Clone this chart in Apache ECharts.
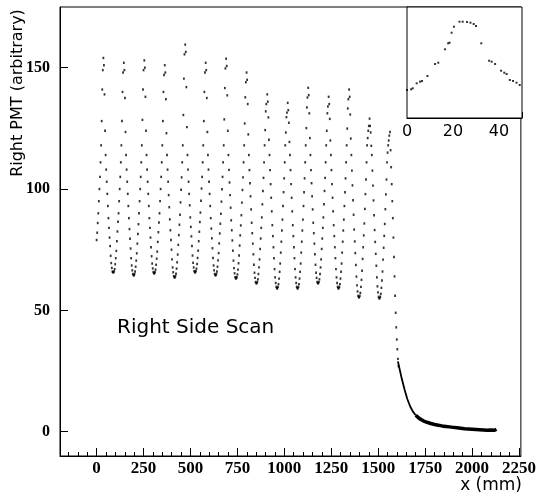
<!DOCTYPE html>
<html>
<head>
<meta charset="utf-8">
<script src="https://cdn.jsdelivr.net/npm/echarts@6/dist/echarts.min.js"></script>
<style>
html,body{margin:0;padding:0;background:#fff;}
#c{width:539px;height:496px;}
</style>
</head>
<body>
<div id="c"></div>
<script>
// ---- data ----
const xMajorTicks = [0, 250, 500, 750, 1000, 1250, 1500, 1750, 2000, 2250];
const yMajorTicks = [0, 50, 100, 150];
const insetTicks = [0, 20, 40];

const scanStep = 3; // mm between samples
const leadValues = [79, 82, 86, 90, 95, 100, 105, 111, 118, 128, 141, 149];
const tileStart = [36, 145, 254, 363, 472, 581, 690, 799, 909, 1018, 1127, 1236, 1345, 1454];
const tileValues = [
  [154,151,139,124,114,108,103,98,93,88,84,80,76.5,72.5,69.5,67.5,66,65.7, 65.7,66,67,69,71.5,74.5,78.5,82.5,86.5,90,95,100,105,111,118,128,140,148],
  [152,149,137.5,123.5,114,108,103,98,93,88,83.5,79.5,75.5,71.5,68.5,66.5,65,64.5, 64.5,65,66,68,70.5,73.5,77.5,81.5,85.5,90,95,100,105,111,118,128.5,141,149],
  [153,150,138,124,114,108,103,98,93,88,84,80,76,72.3,69.3,67.3,65.8,65.3, 65.3,65.8,66.8,68.8,71.3,74.2,78.2,82.2,86.2,90,95,100,105,111,118,128,140,147],
  [151,148,137,123,114,108,103,97.5,92.5,87.5,83,79,75,71,67.7,65.7,64.1,63.6, 63.6,64.1,65.1,67.2,69.8,73,77,81,85.3,89.4,94.5,99.7,104.8,111,118,130.5,145.5,155.5],
  [159.5,156.5,142,125.5,114,108,103,98,93.3,88.3,84.4,80.5,76.5,72.6,69.6,67.7,66.2,65.7, 65.7,66.2,67.2,69.1,71.6,74.6,78.5,82.4,86.4,90.3,95.2,100.2,105,111,118,128,140,148],
  [152,149,137.5,123.5,114,108,103,98,93,88,83.7,79.7,75.6,71.6,68.5,66.5,65,64.5, 64.5,65,66,68,70.6,73.6,77.6,81.7,85.7,89.8,94.8,99.9,105,111,118,128.7,141.6,149.7],
  [153.7,150.7,138.6,124,114,107.9,102.7,97.5,92.3,87.1,83,78.8,74.6,70.5,67.4,65.3,63.7,63.2, 63.2,63.7,64.8,66.8,69.4,72.6,76.7,80.9,85,89.2,94.4,99.6,104.8,111,118,127,137.8,144],
  [148,145,135,122.5,114,107.8,102.4,97,91.6,86.1,81.8,77.5,73.1,68.8,65.5,63.4,61.7,61.2, 61.2,61.7,62.8,65,67.7,71,75.3,79.6,84,88.3,93.7,99.2,104.6,111,118,124.3,132,135],
  [139,136,129.5,120.3,114,107.8,102,96.4,90.8,85.1,80.6,76,71.5,67,63.6,61.3,59.7,59.1, 59.1,59.7,60.8,63.1,65.9,69.3,73.8,78.3,82.9,87.4,93,98.7,104.4,111,118,123.3,129.6,131.5],
  [135.5,132.5,127.3,119.4,114,107.8,102,96.4,90.8,85.1,80.6,76,71.5,67,63.6,61.3,59.7,59.1, 59.1,59.7,60.8,63.1,65.9,69.3,73.8,78.3,82.9,87.4,93,98.7,104.4,111,118,125.1,133.6,137.7],
  [141.7,138.7,131.2,121,114,107.8,102.4,97,91.6,86.1,81.8,77.5,73.1,68.8,65.5,63.4,61.7,61.2, 61.2,61.7,62.8,65,67.7,71,75.3,79.6,84,88.3,93.7,99.2,104.6,111,118,124,131.2,134],
  [138,135,128.9,120,114,107.8,102,96.4,90.8,85.1,80.6,76,71.5,67,63.6,61.3,59.7,59.1, 59.1,59.7,60.8,63.1,65.9,69.3,73.8,78.3,82.9,87.4,93,98.7,104.4,111,118,124.9,133.2,137],
  [141,138,130.7,120.8,114,107.6,101.5,95.4,89.4,83.3,78.4,73.6,68.7,63.9,60.3,57.8,56,55.4, 55.4,56,57.2,59.7,62.6,66.3,71.2,76,80.9,85.8,91.8,97.9,103.9,111,118,121,124,126],
  [129,126,123.3,117.8,114,107.6,101.4,95.3,89.2,83.1,78.2,73.3,68.4,63.6,59.9,57.4,55.6,55, 55,55.6,56.8,59.3,62.3,66,70.9,75.8,80.7,85.6,91.7,97.8,103.9,111,115,118,120,122]
];
const dropStart = 1563;
const dropValues = [123.5, 116, 109, 102, 95, 88, 80, 72, 64, 56, 49, 43, 38, 34, 30, 27];
// steep part of the fall-off (thin trace) and the flat tail (thick noisy band)
const fallX = [1605,1615,1625,1640,1655,1670,1685,1700];
const fallY = [29,25.5,22,17.5,13.5,10.5,8.3,6.8];
const tailX = [1700,1720,1740,1760,1780,1800,1820,1840,1860,1880,1900,1920,1940,1960,1980,2000,2020,2040,2060,2080,2100,2120,2130];
const tailY = [6.8,5.4,4.5,3.9,3.4,3.0,2.7,2.4,2.2,2.0,1.8,1.6,1.4,1.2,1.1,1.0,0.9,0.8,0.7,0.6,0.7,0.6,1.0];

const insetX = [0,1.8,2.5,4.2,5.7,6.5,8.9,12.2,13.6,16.5,17.9,18.5,19.4,20.4,22.8,24.2,26.1,27.6,29,30,32.3,35.7,36.8,38.3,40.9,42.3,43.3,44.7,46.1,47.6,49];
const insetY = [28,28.7,29.7,34.7,36.3,37,42,54,55.3,68.7,74.7,75.3,85.3,91.3,96.3,96.3,96,95.3,94,92,74.7,57.3,56.3,54,47.3,45.3,44,38,37,35.3,33];

// ---- build series data ----
const mainPts = [];
leadValues.forEach((v, i) => mainPts.push([i * scanStep, v]));
tileValues.forEach((row, k) => row.forEach((v, i) => mainPts.push([tileStart[k] + i * scanStep, v])));
dropValues.forEach((v, i) => mainPts.push([dropStart + i * scanStep, v]));
const fallPts = fallX.map((x, i) => [x, fallY[i]]);
const tailPts = tailX.map((x, i) => [x, tailY[i]]);
const insetPts = insetX.map((x, i) => [x, insetY[i]]);

const xMinorTicks = [];
for (let v = -150; v <= 2250; v += 50) if (v % 250 !== 0) xMinorTicks.push(v);

const serifBold = { fontFamily: 'Liberation Serif', fontWeight: 'bold', color: '#000' };
const sans = 'DejaVu Sans';
const plain = v => String(v);

const chart = echarts.init(document.getElementById('c'), null, { renderer: 'canvas' });
chart.setOption({
  animation: false,
  backgroundColor: '#fff',
  grid: [
    { left: 60, top: 7, width: 462, height: 449, show: true, borderColor: '#000', borderWidth: 1, backgroundColor: 'transparent' },
    { left: 407, top: 7, width: 115, height: 111, show: true, borderColor: '#000', borderWidth: 1, backgroundColor: '#fff', z: 5 }
  ],
  xAxis: [
    { type: 'value', gridIndex: 0, min: -195, max: 2260,
      axisLine: { show: true, onZero: false, lineStyle: { color: '#000', width: 1 } },
      axisTick: { show: true, inside: true, length: 8, customValues: xMajorTicks, lineStyle: { color: '#000' } },
      axisLabel: { show: true, customValues: xMajorTicks, formatter: plain, margin: 4, fontSize: 17, ...serifBold },
      splitLine: { show: false } },
    { type: 'value', gridIndex: 0, min: -195, max: 2260, position: 'bottom',
      axisLine: { show: false, onZero: false },
      axisTick: { show: true, inside: true, length: 4, customValues: xMinorTicks, lineStyle: { color: '#000' } },
      axisLabel: { show: false }, splitLine: { show: false } },
    { type: 'value', gridIndex: 1, min: 0, max: 50, interval: 20,
      axisLine: { show: true, onZero: false, lineStyle: { color: '#000' } },
      axisTick: { show: true, inside: true, length: 6, lineStyle: { color: '#000' } },
      minorTick: { show: true, splitNumber: 4, length: 3, lineStyle: { color: '#000' } },
      axisLabel: { show: true, customValues: insetTicks, formatter: plain, margin: 6, fontSize: 16, fontFamily: sans, color: '#000', hideOverlap: false },
      splitLine: { show: false } }
  ],
  yAxis: [
    { type: 'value', gridIndex: 0, min: -10, max: 175,
      axisLine: { show: true, onZero: false, lineStyle: { color: '#000' } },
      axisTick: { show: true, inside: true, length: 8, customValues: yMajorTicks, lineStyle: { color: '#000' } },
      axisLabel: { show: true, customValues: yMajorTicks, formatter: plain, margin: 10, fontSize: 16, ...serifBold },
      splitLine: { show: false } },
    { type: 'value', gridIndex: 1, min: 0, max: 111,
      axisLine: { show: true, onZero: false, lineStyle: { color: '#000' } },
      axisTick: { show: false }, axisLabel: { show: false }, splitLine: { show: false } }
  ],
  series: [
    { type: 'scatter', xAxisIndex: 0, yAxisIndex: 0, data: mainPts, symbol: 'rect', symbolSize: [1.8, 2.4],
      itemStyle: { color: '#000' }, silent: true },
    { type: 'line', xAxisIndex: 0, yAxisIndex: 0, data: fallPts, showSymbol: false, symbol: 'none',
      lineStyle: { color: '#000', width: 1.8 }, silent: true },
    { type: 'line', xAxisIndex: 0, yAxisIndex: 0, data: tailPts, showSymbol: false, symbol: 'none',
      lineStyle: { color: '#000', width: 3.5 }, silent: true },
    { type: 'scatter', xAxisIndex: 2, yAxisIndex: 1, data: insetPts, symbol: 'rect', symbolSize: [2, 2],
      itemStyle: { color: '#000' }, silent: true, z: 6 }
  ],
  graphic: [
    { type: 'text', x: 18, y: 93, rotation: Math.PI / 2,
      style: { text: 'Right PMT (arbitrary)', font: '16px "DejaVu Sans"', fill: '#000', align: 'center', verticalAlign: 'middle' } },
    { type: 'text', x: 522, y: 486,
      style: { text: 'x (mm)', font: '17px "DejaVu Sans"', fill: '#000', align: 'right', verticalAlign: 'middle' } },
    { type: 'text', x: 117, y: 328,
      style: { text: 'Right Side Scan', font: '20px "DejaVu Sans"', fill: '#000', align: 'left', verticalAlign: 'middle' } }
  ]
});
</script>
</body>
</html>
